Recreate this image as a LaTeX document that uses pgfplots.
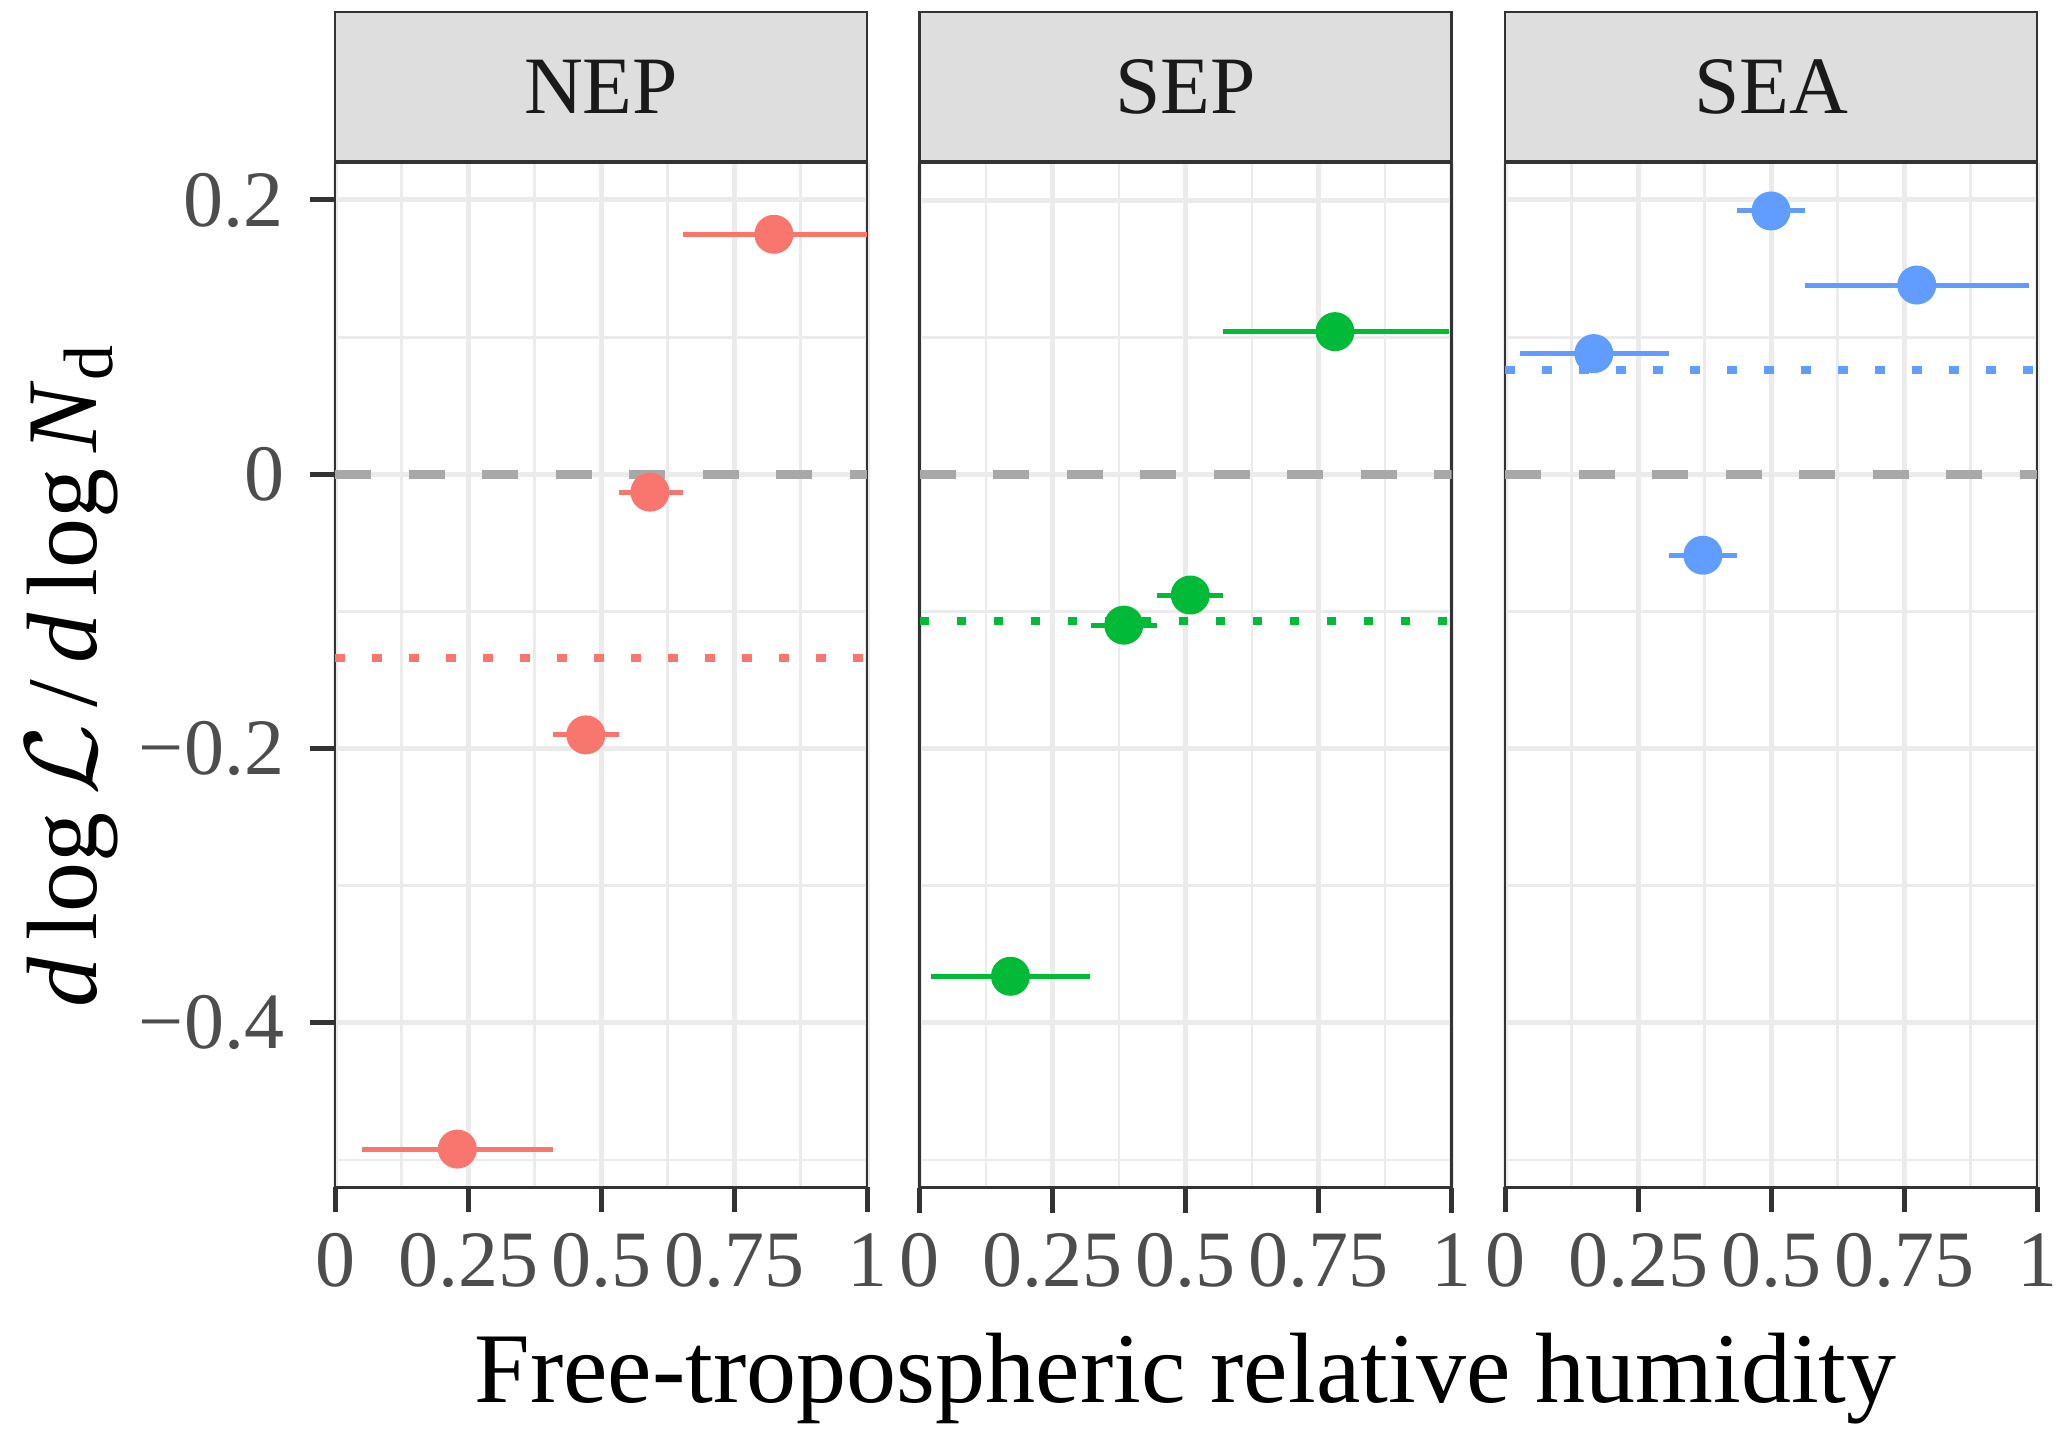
\documentclass[border=0pt]{standalone}
\usepackage{fontspec}
\setmainfont{Liberation Serif}
\usepackage{pgfplots}
\usepackage{pgfplotstable}
\pgfplotsset{compat=1.18}
\definecolor{cNEP}{HTML}{F8766D}
\definecolor{cSEP}{HTML}{00BA38}
\definecolor{cSEA}{HTML}{619CFF}
\definecolor{gridc}{HTML}{EBEBEB}
\definecolor{bordc}{HTML}{333333}
\definecolor{stripc}{HTML}{DEDEDE}
\definecolor{tickc}{HTML}{4D4D4D}
\definecolor{stript}{HTML}{1A1A1A}
\definecolor{zeroc}{HTML}{A8A8A8}

\pgfplotstableread{
x      y       em      ep
0.825  0.175   0.170   0.195
0.592  -0.013  0.059   0.062
0.4715 -0.190  0.0615  0.0625
0.230  -0.492  0.179   0.179
}\nep
\pgfplotstableread{
x      y       em      ep
0.781  0.104   0.210   0.214
0.509  -0.088  0.062   0.062
0.384  -0.110  0.062   0.063
0.171  -0.366  0.150   0.150
}\sep
\pgfplotstableread{
x      y       em      ep
0.500  0.192   0.063   0.064
0.774  0.138   0.210   0.210
0.167  0.088   0.138   0.141
0.372  -0.059  0.064   0.065
}\sea

\pgfplotsset{
  panel/.style={
    anchor=south west, scale only axis,
    width=106.4bp, height=204.9bp,
    xmin=0, xmax=1, ymin=-0.520, ymax=0.227,
    axis line style={draw=bordc, line width=0.55bp},
    xtick={0,0.25,0.5,0.75,1}, xticklabels={0,0.25,0.5,0.75,1},
    ytick={-0.4,-0.2,0,0.2},
    minor xtick={0.125,0.375,0.625,0.875},
    minor ytick={-0.5,-0.3,-0.1,0.1},
    tick pos=left, tick align=outside,
    major tick length=5bp, minor tick length=0pt,
    major tick style={draw=bordc, line width=1bp},
    grid=both,
    major grid style={draw=gridc, line width=1bp},
    minor grid style={draw=gridc, line width=0.55bp},
    tick label style={font=\fontsize{16bp}{19bp}\selectfont, text=tickc},
    xticklabel style={anchor=north, inner sep=0pt, yshift=-4bp},
    yticklabel style={anchor=east, inner sep=0pt, xshift=-5bp},
    every axis title/.style={at={(0.5,1)}, anchor=south, yshift=0pt,
      fill=stripc, draw=bordc,
      line width=0.55bp, minimum width=106.4bp, minimum height=29.9bp,
      inner sep=0pt, text=stript, font=\fontsize{16.3bp}{19bp}\selectfont},
  },
  noy/.style={yticklabels={}, ytick style={draw=none}},
  zero/.style={zeroc, line width=1.8bp, dash pattern=on 7.2bp off 7.5bp},
  meanl/.style={#1, line width=1.7bp, dash pattern=on 1.9bp off 5.5bp},
  pts/.style={only marks, mark=*, mark size=3.7bp, color=#1,
    mark options={fill=#1, draw=none},
    error bars/.cd, x dir=both, x explicit, error mark=none,
    error bar style={line width=1bp, color=#1}},
}

\begin{document}
\begin{tikzpicture}
\path[use as bounding box] (0,0) rectangle (413.4bp,286.2bp);

\begin{axis}[panel, at={(67bp,48.7bp)}, title={NEP},
  yticklabels={−0.4,−0.2,0,0.2},
  ylabel={\textit{d}\,log\,$\mathcal{L}$\,/\,\textit{d}\,log\,\textit{N}\textsubscript{d}},
  ylabel style={at={(axis description cs:-0.494,0.5)}, anchor=center,
    inner sep=0pt, font=\fontsize{20bp}{24bp}\selectfont, text=black}]
\addplot[zero] coordinates {(0,0) (1,0)};
\addplot[meanl=cNEP] coordinates {(0,-0.134) (1,-0.134)};
\addplot[pts=cNEP] table[x=x, y=y, x error plus=ep, x error minus=em] {\nep};
\end{axis}

\begin{axis}[panel, noy, at={(183.9bp,48.7bp)}, title={SEP},
  xlabel={Free-tropospheric relative humidity},
  xlabel style={at={(axis description cs:0.5,0)}, anchor=base, yshift=-42.9bp,
    inner sep=0pt, font=\fontsize{20bp}{24bp}\selectfont, text=black}]
\addplot[zero] coordinates {(0,0) (1,0)};
\addplot[meanl=cSEP] coordinates {(0,-0.107) (1,-0.107)};
\addplot[pts=cSEP] table[x=x, y=y, x error plus=ep, x error minus=em] {\sep};
\end{axis}

\begin{axis}[panel, noy, at={(301bp,48.7bp)}, title={SEA}]
\addplot[zero] coordinates {(0,0) (1,0)};
\addplot[meanl=cSEA] coordinates {(0,0.076) (1,0.076)};
\addplot[pts=cSEA] table[x=x, y=y, x error plus=ep, x error minus=em] {\sea};
\end{axis}
\end{tikzpicture}
\end{document}
